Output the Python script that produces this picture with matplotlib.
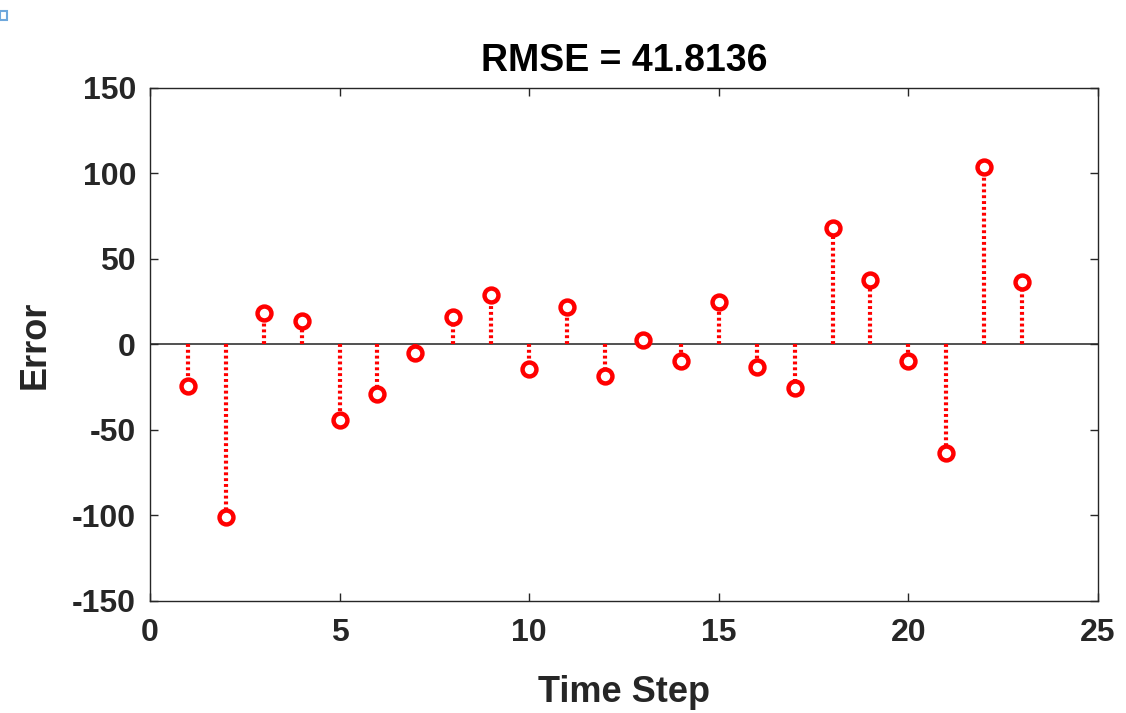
import numpy as np
import matplotlib.pyplot as plt
from matplotlib.patches import Rectangle

plt.rcParams['font.family'] = ['Liberation Sans', 'DejaVu Sans']
plt.rcParams['font.weight'] = 'bold'
plt.rcParams['axes.unicode_minus'] = False

steps = np.arange(1, 24)
errors = [-24, -101, 18.7, 13.5, -43.9, -29, -4.7, 15.8, 29.2, -14.6, 22.2, -18.7,
          2.9, -9.9, 24.6, -12.9, -25.7, 68.4, 38, -9.9, -63.7, 104, 36.8]
rmse = 41.8136

fig = plt.figure(figsize=(11.26, 7.13), dpi=100)
ax = fig.add_axes([0.1332, 0.1571, 0.8419, 0.7195])

ax.axhline(0, color='#333333', lw=1.2, zorder=1)
for x, e in zip(steps, errors):
    ax.plot([x, x], [0, e], color='red', lw=3, ls=(0, (0.7, 0.7)), zorder=2)
ax.plot(steps, errors, 'o', mfc='white', mec='red', mew=3.2, ms=10, ls='none', zorder=3)

ax.set_xlim(0, 25)
ax.set_ylim(-150, 150)
ax.set_xticks([0, 5, 10, 15, 20, 25])
ax.set_yticks([-150, -100, -50, 0, 50, 100, 150])
ax.tick_params(direction='in', top=True, right=True, labelsize=23, colors='#262626',
               length=6, width=1)
ax.tick_params(axis='x', pad=12)
ax.tick_params(axis='y', pad=10)
for s in ax.spines.values():
    s.set_color('#262626')
    s.set_linewidth(1)

ax.set_xlabel('Time Step', fontsize=26, fontweight='bold', color='#262626', labelpad=20)
ax.set_ylabel('Error', fontsize=26, fontweight='bold', color='#262626', labelpad=14)
ax.set_title(f'RMSE = {rmse}', fontsize=27, fontweight='bold', pad=12)

fig.patches.append(Rectangle((0.0, 0.972), 0.006, 0.012, transform=fig.transFigure,
                             fill=False, ec='#6fa8dc', lw=1.5))

fig.savefig('out.png', dpi=100)
